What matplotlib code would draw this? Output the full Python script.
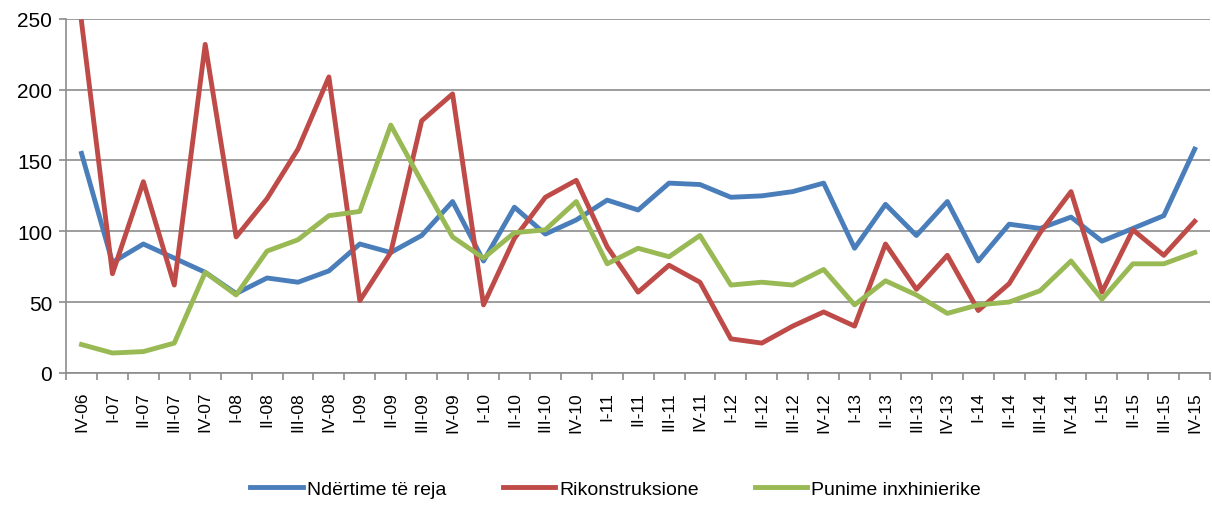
import matplotlib
matplotlib.use("Agg")
import matplotlib.pyplot as plt

plt.rcParams['font.family'] = ['Liberation Sans', 'DejaVu Sans']

# tremujoret
kategorite = ["IV-06",
              "I-07", "II-07", "III-07", "IV-07",
              "I-08", "II-08", "III-08", "IV-08",
              "I-09", "II-09", "III-09", "IV-09",
              "I-10", "II-10", "III-10", "IV-10",
              "I-11", "II-11", "III-11", "IV-11",
              "I-12", "II-12", "III-12", "IV-12",
              "I-13", "II-13", "III-13", "IV-13",
              "I-14", "II-14", "III-14", "IV-14",
              "I-15", "II-15", "III-15", "IV-15"]

ndertime_te_reja = [155, 78, 91, 81, 71, 56, 67, 64, 72, 91, 85, 97, 121,
                    79, 117, 98, 108, 122, 115, 134, 133, 124, 125, 128, 134,
                    88, 119, 97, 121, 79, 105, 102, 110, 93, 102, 111, 158]

rikonstruksione = [248, 70, 135, 62, 232, 96, 123, 158, 209, 51, 85, 178, 197,
                   48, 95, 124, 136, 89, 57, 76, 64, 24, 21, 33, 43,
                   33, 91, 59, 83, 44, 63, 99, 128, 57, 101, 83, 107]

punime_inxhinierike = [20, 14, 15, 21, 71, 55, 86, 94, 111, 114, 175, 135, 96,
                       81, 99, 101, 121, 77, 88, 82, 97, 62, 64, 62, 73,
                       48, 65, 55, 42, 48, 50, 58, 79, 52, 77, 77, 85]

x = list(range(len(kategorite)))

fig = plt.figure(figsize=(12.12, 5.10), dpi=100)
ax = fig.add_axes([0.0545, 0.267, 0.944, 0.694])

ax.plot(x, ndertime_te_reja, color='#4A7EBB', lw=3.5, label='Ndërtime të reja', clip_on=False)
ax.plot(x, rikonstruksione, color='#BE4B48', lw=3.5, label='Rikonstruksione', clip_on=False)
ax.plot(x, punime_inxhinierike, color='#98B954', lw=3.5, label='Punime inxhinierike', clip_on=False)

ax.set_xlim(-0.5, len(kategorite) - 0.5)
ax.set_ylim(0, 250)
ax.set_yticks([0, 50, 100, 150, 200, 250])
ax.yaxis.grid(True, color='#8C8C8C', lw=1.2)
ax.set_axisbelow(True)

# etiketat ne mes, vijat e ndarjes midis kategorive
ax.set_xticks(x)
ax.set_xticklabels(kategorite, rotation=90, fontsize=12.5)
ax.set_xticks([i - 0.5 for i in range(len(kategorite) + 1)], minor=True)
ax.tick_params(axis='x', which='major', length=0, pad=13)
ax.tick_params(axis='x', which='minor', length=5, color='#8C8C8C', width=1.2)
ax.tick_params(axis='y', labelsize=15, length=5, color='#8C8C8C', width=1.2, pad=5)

for s in ['top', 'right']:
    ax.spines[s].set_visible(False)
for s in ['left', 'bottom']:
    ax.spines[s].set_color('#8C8C8C')
    ax.spines[s].set_linewidth(1.2)

fig.legend(loc='lower center', bbox_to_anchor=(0.508, -0.012), ncol=3, frameon=False,
           fontsize=14, handlelength=2.7, columnspacing=2.9, handletextpad=0.2)

plt.savefig("out.png", dpi=100)
